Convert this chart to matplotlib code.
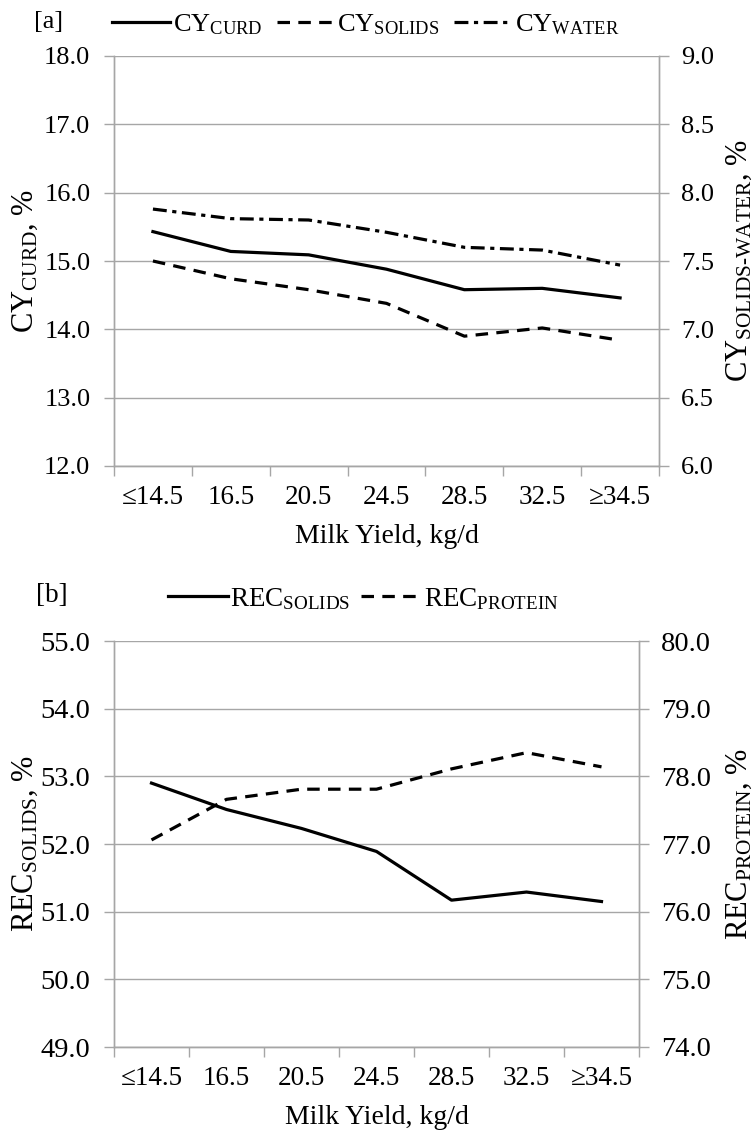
import numpy as np
import matplotlib
matplotlib.use('Agg')
import matplotlib.pyplot as plt

plt.rcParams['font.family'] = ['Liberation Serif', 'DejaVu Serif']
plt.rcParams['mathtext.fontset'] = 'custom'
plt.rcParams['mathtext.rm'] = 'Liberation Serif'
plt.rcParams['mathtext.it'] = 'Liberation Serif:italic'
plt.rcParams['mathtext.bf'] = 'Liberation Serif:bold'
plt.rcParams['lines.scale_dashes'] = False

categories = ['\u226414.5', '16.5', '20.5', '24.5', '28.5', '32.5', '\u226534.5']

# panel a
cy_curd = [15.43, 15.14, 15.09, 14.88, 14.58, 14.60, 14.46]
cy_solids = [7.50, 7.37, 7.29, 7.19, 6.95, 7.01, 6.92]
cy_water = [7.88, 7.81, 7.80, 7.71, 7.60, 7.58, 7.47]

# panel b
rec_solids = [52.90, 52.51, 52.23, 51.89, 51.17, 51.29, 51.15]
rec_protein = [77.06, 77.66, 77.81, 77.81, 78.11, 78.35, 78.14]

W, H = 755, 1136
fig = plt.figure(figsize=(W / 100, H / 100), dpi=100)

grid_c = '#a6a6a6'
x = np.arange(len(categories))
dash = (9, 6)
dashdot = (10, 4, 3, 4)


def px(l, t, r, b):
    return [l / W, 1 - b / H, (r - l) / W, (b - t) / H]


def style(ax, ax2, ylim, yticks, ylim2, yticks2, ysize):
    ax.set_xlim(-0.5, len(categories) - 0.5)
    ax.set_ylim(*ylim)
    ax.set_yticks(yticks)
    ax.set_yticklabels(['%.1f' % v for v in yticks], fontsize=ysize)
    ax2.set_ylim(*ylim2)
    ax2.set_yticks(yticks2)
    ax2.set_yticklabels(['%.1f' % v for v in yticks2], fontsize=ysize)
    ax.set_xticks(x)
    ax.set_xticklabels(categories, fontsize=19.5)
    ax.set_xticks(np.arange(-0.5, len(categories)), minor=True)
    ax.tick_params(axis='x', which='major', length=0, pad=14)
    ax.tick_params(axis='x', which='minor', length=7, width=1, color=grid_c)
    ax.tick_params(axis='y', length=7, width=1, color=grid_c, pad=10)
    ax2.tick_params(axis='y', length=7, width=1, color=grid_c, pad=9)
    ax.grid(axis='y', color=grid_c, lw=1)
    ax.set_axisbelow(True)
    for a in (ax, ax2):
        a.spines['top'].set_visible(False)
        for s in ('left', 'right', 'bottom'):
            a.spines[s].set_color(grid_c)
            a.spines[s].set_linewidth(1)
    ax.set_xlabel('Milk Yield, kg/d', fontsize=20, labelpad=10)


# ---- panel a ----
ax = fig.add_axes(px(114, 56, 659, 466))
ax2 = ax.twinx()
l1, = ax.plot(x, cy_curd, color='black', lw=2.3, label=r'$\mathrm{CY}_{\mathrm{CURD}}$')
l2, = ax2.plot(x, cy_solids, color='black', lw=2.3, dashes=dash, label=r'$\mathrm{CY}_{\mathrm{SOLIDS}}$')
l3, = ax2.plot(x, cy_water, color='black', lw=2.3, dashes=dashdot, label=r'$\mathrm{CY}_{\mathrm{WATER}}$')
style(ax, ax2, (12, 18), np.arange(12, 18.1, 1.0), (6, 9), np.arange(6, 9.01, 0.5), 19)

fig.text(34 / W, 1 - 22 / H, '[a]', fontsize=19, ha='left', va='center')
fig.legend(handles=[l1, l2, l3], loc='center left', bbox_to_anchor=(112 / W, 1 - 25 / H),
           ncol=3, frameon=False, fontsize=19, handlelength=2.2, handletextpad=0.1,
           columnspacing=0.55, borderpad=0, borderaxespad=0)
fig.text(25 / W, 1 - 261 / H, r'$\mathrm{CY}_{\mathrm{CURD}}$, %', rotation=90,
         fontsize=22, ha='center', va='center')
fig.text(739 / W, 1 - 261 / H, r'$\mathrm{CY}_{\text{SOLIDS-WATER}}$, %', rotation=90,
         fontsize=22, ha='center', va='center')

# ---- panel b ----
bx = fig.add_axes(px(114, 641, 639, 1047))
bx2 = bx.twinx()
m1, = bx.plot(x, rec_solids, color='black', lw=2.3, label=r'$\mathrm{REC}_{\mathrm{SOLIDS}}$')
m2, = bx2.plot(x, rec_protein, color='black', lw=2.3, dashes=dash, label=r'$\mathrm{REC}_{\mathrm{PROTEIN}}$')
style(bx, bx2, (49, 55), np.arange(49, 55.1, 1.0), (74, 80), np.arange(74, 80.1, 1.0), 20.5)

fig.text(36 / W, 1 - 596 / H, '[b]', fontsize=19.5, ha='left', va='center')
fig.legend(handles=[m1, m2], loc='center left', bbox_to_anchor=(168 / W, 1 - 599 / H),
           ncol=2, frameon=False, fontsize=19.5, handlelength=2.2, handletextpad=0.1,
           columnspacing=0.4, borderpad=0, borderaxespad=0)
fig.text(25 / W, 1 - 844 / H, r'$\mathrm{REC}_{\mathrm{SOLIDS}}$, %', rotation=90,
         fontsize=22, ha='center', va='center')
fig.text(739 / W, 1 - 844 / H, r'$\mathrm{REC}_{\mathrm{PROTEIN}}$, %', rotation=90,
         fontsize=22, ha='center', va='center')

fig.savefig('out.png', dpi=100)
